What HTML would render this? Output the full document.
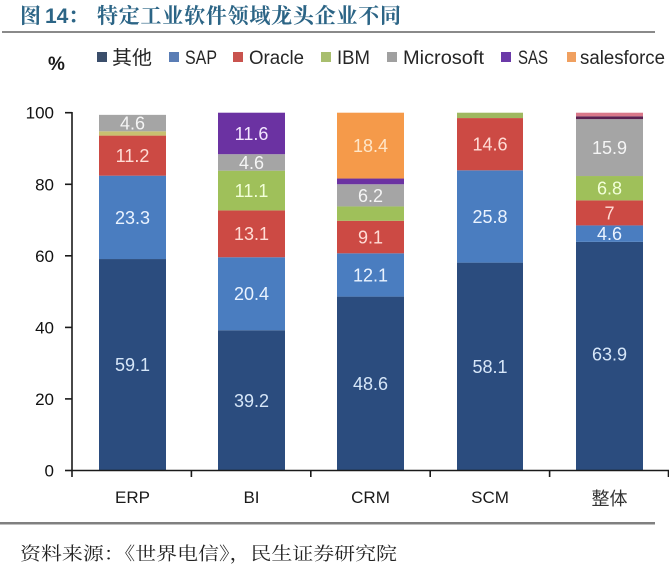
<!DOCTYPE html>
<html>
<head>
<meta charset="utf-8">
<style>
  html,body{margin:0;padding:0;background:#ffffff;}
  svg{display:block;}
  .lab{font-family:"Liberation Sans",sans-serif;font-size:18px;text-anchor:middle;}
  .ax{font-family:"Liberation Sans",sans-serif;font-size:17px;fill:#111;}
  .leg{font-family:"Liberation Sans","Noto Sans CJK SC",sans-serif;font-size:19px;fill:#262626;}
</style>
</head>
<body>
<svg width="669" height="570" viewBox="0 0 669 570" xmlns="http://www.w3.org/2000/svg">
  <rect x="0" y="0" width="669" height="570" fill="#ffffff"/>

  <!-- Title -->
  <g font-family="'Noto Serif CJK SC','Noto Sans CJK SC',serif" font-weight="bold" font-size="21" fill="#2C6586">
    <text x="20" y="23">图</text>
    <text x="45" y="23" font-family="'Liberation Sans',sans-serif" font-size="21">14</text>
    <text x="68" y="23">：</text>
    <text x="97" y="23" textLength="304" lengthAdjust="spacing">特定工业软件领域龙头企业不同</text>
  </g>
  <rect x="2" y="31" width="653" height="2" fill="#8a8a8a"/>

  <!-- % -->
  <text x="48" y="70" font-family="'Liberation Sans',sans-serif" font-size="19" font-weight="bold" fill="#1a1a1a">%</text>

  <!-- Legend -->
  <rect x="97" y="52" width="10" height="10" fill="#3B4E6B"/>
  <text class="leg" x="112" y="64" font-family="'Noto Sans CJK SC',sans-serif" textLength="40" lengthAdjust="spacingAndGlyphs">其他</text>
  <rect x="169" y="52" width="10" height="10" fill="#5A7DB5"/>
  <text class="leg" x="185" y="64" textLength="32" lengthAdjust="spacingAndGlyphs">SAP</text>
  <rect x="233" y="52" width="10" height="10" fill="#C9534E"/>
  <text class="leg" x="249" y="64" textLength="55" lengthAdjust="spacingAndGlyphs">Oracle</text>
  <rect x="321" y="52" width="10" height="10" fill="#A8BE6E"/>
  <text class="leg" x="337" y="64" textLength="33" lengthAdjust="spacingAndGlyphs">IBM</text>
  <rect x="387" y="52" width="10" height="10" fill="#A0A0A0"/>
  <text class="leg" x="403" y="64" textLength="81" lengthAdjust="spacingAndGlyphs">Microsoft</text>
  <rect x="501" y="52" width="10" height="10" fill="#6B3AA8"/>
  <text class="leg" x="518" y="64" textLength="30" lengthAdjust="spacingAndGlyphs">SAS</text>
  <rect x="567" y="52" width="9" height="10" fill="#F0A060"/>
  <text class="leg" x="580" y="64" textLength="85" lengthAdjust="spacingAndGlyphs">salesforce</text>

  <!-- Bars: ERP -->
  <g>
    <rect x="99" y="259.04" width="67" height="211.46" fill="#2B4C7E"/>
    <rect x="99" y="175.67" width="67" height="83.37" fill="#4A7DC0"/>
    <rect x="99" y="135.6" width="67" height="40.07" fill="#CC4A44"/>
    <rect x="99" y="131.31" width="67" height="4.29" fill="#C8C070"/>
    <rect x="99" y="114.85" width="67" height="16.46" fill="#A5A5A5"/>
    <text class="lab" x="132.5" y="371.2" fill="#D6E6F8">59.1</text>
    <text class="lab" x="132.5" y="223.8" fill="#EAF3FF">23.3</text>
    <text class="lab" x="132.5" y="162" fill="#FFDCD5">11.2</text>
    <text class="lab" x="132.5" y="129.5" fill="#F5F5F5">4.6</text>
  </g>

  <!-- Bars: BI -->
  <g>
    <rect x="218" y="330.24" width="67" height="140.26" fill="#2B4C7E"/>
    <rect x="218" y="257.25" width="67" height="72.99" fill="#4A7DC0"/>
    <rect x="218" y="210.38" width="67" height="46.87" fill="#CC4A44"/>
    <rect x="218" y="170.66" width="67" height="39.72" fill="#9FC05A"/>
    <rect x="218" y="154.2" width="67" height="16.46" fill="#A5A5A5"/>
    <rect x="218" y="112.7" width="67" height="41.5" fill="#6B32A2"/>
    <text class="lab" x="251.5" y="406.8" fill="#D6E6F8">39.2</text>
    <text class="lab" x="251.5" y="300.1" fill="#EAF3FF">20.4</text>
    <text class="lab" x="251.5" y="240.2" fill="#FFDCD5">13.1</text>
    <text class="lab" x="251.5" y="196.9" fill="#F2FFD8">11.1</text>
    <text class="lab" x="251.5" y="168.8" fill="#F5F5F5">4.6</text>
    <text class="lab" x="251.5" y="139.8" fill="#F3E6FF">11.6</text>
  </g>

  <!-- Bars: CRM -->
  <g>
    <rect x="337" y="296.61" width="67" height="173.89" fill="#2B4C7E"/>
    <rect x="337" y="253.32" width="67" height="43.29" fill="#4A7DC0"/>
    <rect x="337" y="220.76" width="67" height="32.56" fill="#CC4A44"/>
    <rect x="337" y="206.44" width="67" height="14.32" fill="#9FC05A"/>
    <rect x="337" y="184.26" width="67" height="22.18" fill="#A5A5A5"/>
    <rect x="337" y="178.54" width="67" height="5.72" fill="#6B32A2"/>
    <rect x="337" y="112.7" width="67" height="65.84" fill="#F59A4A"/>
    <text class="lab" x="370.5" y="390" fill="#D6E6F8">48.6</text>
    <text class="lab" x="370.5" y="281.4" fill="#EAF3FF">12.1</text>
    <text class="lab" x="370.5" y="243.4" fill="#FFDCD5">9.1</text>
    <text class="lab" x="370.5" y="201.8" fill="#F5F5F5">6.2</text>
    <text class="lab" x="370.5" y="152" fill="#FFE6C8">18.4</text>
  </g>

  <!-- Bars: SCM -->
  <g>
    <rect x="457" y="262.62" width="66" height="207.88" fill="#2B4C7E"/>
    <rect x="457" y="170.31" width="66" height="92.31" fill="#4A7DC0"/>
    <rect x="457" y="118.07" width="66" height="52.24" fill="#CC4A44"/>
    <rect x="457" y="112.7" width="66" height="5.37" fill="#9FB860"/>
    <text class="lab" x="490" y="373" fill="#D6E6F8">58.1</text>
    <text class="lab" x="490" y="222.9" fill="#EAF3FF">25.8</text>
    <text class="lab" x="490" y="150.6" fill="#FFDCD5">14.6</text>
  </g>

  <!-- Bars: 整体 -->
  <g>
    <rect x="576" y="241.87" width="67" height="228.63" fill="#2B4C7E"/>
    <rect x="576" y="225.41" width="67" height="16.46" fill="#4A7DC0"/>
    <rect x="576" y="200.36" width="67" height="25.05" fill="#CC4A44"/>
    <rect x="576" y="176.03" width="67" height="24.33" fill="#9FC05A"/>
    <rect x="576" y="119.14" width="67" height="56.89" fill="#A5A5A5"/>
    <rect x="576" y="116.28" width="67" height="2.86" fill="#5A2050"/>
    <rect x="576" y="112.7" width="67" height="3.58" fill="#D9788A"/>
    <text class="lab" x="609.5" y="360.4" fill="#D6E6F8">63.9</text>
    <text class="lab" x="609.5" y="240" fill="#EAF3FF">4.6</text>
    <text class="lab" x="609.5" y="219.3" fill="#FFDCD5">7</text>
    <text class="lab" x="609.5" y="194.6" fill="#F2FFD8">6.8</text>
    <text class="lab" x="609.5" y="154" fill="#F5F5F5">15.9</text>
  </g>

  <!-- Axes -->
  <g stroke="#1a1a1a" stroke-width="1.6" fill="none">
    <line x1="72" y1="112" x2="72" y2="471"/>
    <line x1="72" y1="470.5" x2="669" y2="470.5"/>
    <line x1="65" y1="470.5" x2="72" y2="470.5"/>
    <line x1="65" y1="398.9" x2="72" y2="398.9"/>
    <line x1="65" y1="327.4" x2="72" y2="327.4"/>
    <line x1="65" y1="255.8" x2="72" y2="255.8"/>
    <line x1="65" y1="184.3" x2="72" y2="184.3"/>
    <line x1="65" y1="112.7" x2="72" y2="112.7"/>
    <line x1="72" y1="470.5" x2="72" y2="477"/>
    <line x1="191.4" y1="470.5" x2="191.4" y2="477"/>
    <line x1="310.8" y1="470.5" x2="310.8" y2="477"/>
    <line x1="430.2" y1="470.5" x2="430.2" y2="477"/>
    <line x1="549.6" y1="470.5" x2="549.6" y2="477"/>
    <line x1="668.5" y1="470.5" x2="668.5" y2="477"/>
  </g>

  <!-- Y labels -->
  <g class="ax" text-anchor="end">
    <text x="54" y="476.5">0</text>
    <text x="54" y="405">20</text>
    <text x="54" y="333.5">40</text>
    <text x="54" y="262">60</text>
    <text x="54" y="190.5">80</text>
    <text x="54" y="118.5">100</text>
  </g>

  <!-- X labels -->
  <g font-family="'Liberation Sans',sans-serif" font-size="17" fill="#1a1a1a" text-anchor="middle">
    <text x="132.5" y="503">ERP</text>
    <text x="251.5" y="503">BI</text>
    <text x="370.5" y="503">CRM</text>
    <text x="490" y="503">SCM</text>
    <text x="609.5" y="505" font-family="'Noto Sans CJK SC',sans-serif" font-size="18" fill="#333">整体</text>
  </g>

  <!-- Bottom divider -->
  <rect x="0" y="522" width="655" height="2.5" fill="#808080"/>

  <!-- Source -->
  <text x="20" y="560" font-family="'Noto Serif CJK SC','Noto Sans CJK SC',serif" font-size="18" fill="#222" textLength="377" lengthAdjust="spacingAndGlyphs">资料来源：《世界电信》，民生证券研究院</text>
</svg>
</body>
</html>
